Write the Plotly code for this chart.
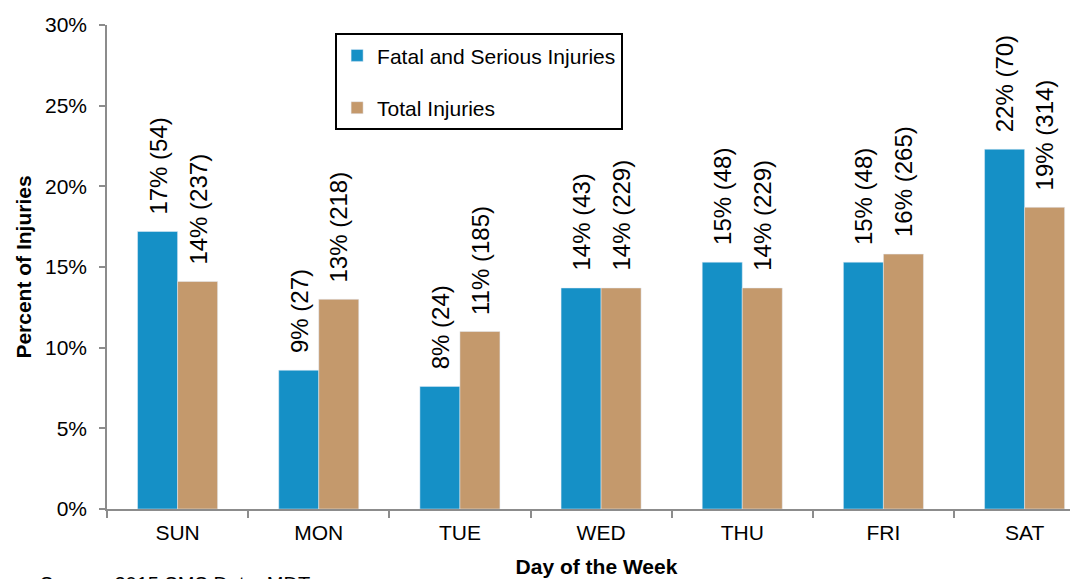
import plotly.graph_objects as go

days = ["SUN", "MON", "TUE", "WED", "THU", "FRI", "SAT"]
fatal_pct = [17.2, 8.6, 7.6, 13.7, 15.3, 15.3, 22.3]
fatal_cnt = [54, 27, 24, 43, 48, 48, 70]
total_pct = [14.1, 13.0, 11.0, 13.7, 13.7, 15.8, 18.7]
total_cnt = [237, 218, 185, 229, 229, 265, 314]
y_ticks = [0, 5, 10, 15, 20, 25, 30]

BLUE = "#1590C6"
BROWN = "#C4996C"
FONT = "Arial, Liberation Sans, sans-serif"

fig = go.Figure()
fig.add_trace(go.Bar(x=days, y=fatal_pct, name="Fatal and Serious Injuries",
                     marker=dict(color=BLUE), legendgroup="a"))
fig.add_trace(go.Bar(x=days, y=total_pct, name="Total Injuries",
                     marker=dict(color=BROWN), legendgroup="b"))

annotations = []
for series, cnts, shift in ((fatal_pct, fatal_cnt, -20), (total_pct, total_cnt, 20)):
    for d, v, c in zip(days, series, cnts):
        annotations.append(dict(
            x=d, y=v, xref="x", yref="y", text=f"{round(v):d}% ({c})",
            textangle=-90, showarrow=False, xanchor="center", yanchor="bottom",
            xshift=shift, yshift=15, font=dict(family=FONT, size=24, color="#000")))

annotations.append(dict(
    x=-0.07, y=-0.128, xref="paper", yref="paper", xanchor="left", yanchor="top",
    text="Source: 2015 SMS Data, MDT", showarrow=False,
    font=dict(family=FONT, size=20, color="#000")))

fig.update_layout(
    width=1078, height=579,
    margin=dict(l=99, r=0, t=17, b=78),
    paper_bgcolor="white", plot_bgcolor="white",
    font=dict(family=FONT, size=21, color="#000"),
    barmode="group", bargap=0.433, bargroupgap=0,
    showlegend=True,
    legend=dict(x=0.233, y=0.983, xanchor="left", yanchor="top",
                bordercolor="#000", borderwidth=2, bgcolor="white",
                traceorder="grouped", tracegroupgap=22,
                font=dict(family=FONT, size=21, color="#000")),
    annotations=annotations,
)
fig.update_xaxes(
    type="category", range=[-0.5, 6.435],
    showline=True, linecolor="#8c8c8c", linewidth=1.5,
    ticks="outside", tickson="boundaries", ticklen=7, tickcolor="#8c8c8c", tickwidth=1.5,
    showgrid=False, zeroline=False, ticklabelstandoff=4,
    tickfont=dict(family=FONT, size=21, color="#000"),
    title=dict(text="Day of the Week", standoff=16,
               font=dict(family=FONT, size=21, color="#000", weight="bold")),
)
fig.update_yaxes(
    range=[0, 30], tickvals=y_ticks, ticktext=[f"{t}%" for t in y_ticks],
    showline=True, linecolor="#8c8c8c", linewidth=1.5,
    ticks="outside", ticklen=6, tickcolor="#8c8c8c", tickwidth=1.5,
    showgrid=False, zeroline=False, ticklabelstandoff=8,
    tickfont=dict(family=FONT, size=21, color="#000"),
    title=dict(text="Percent of Injuries", standoff=8,
               font=dict(family=FONT, size=21, color="#000", weight="bold")),
)

fig.write_html("out.html")
